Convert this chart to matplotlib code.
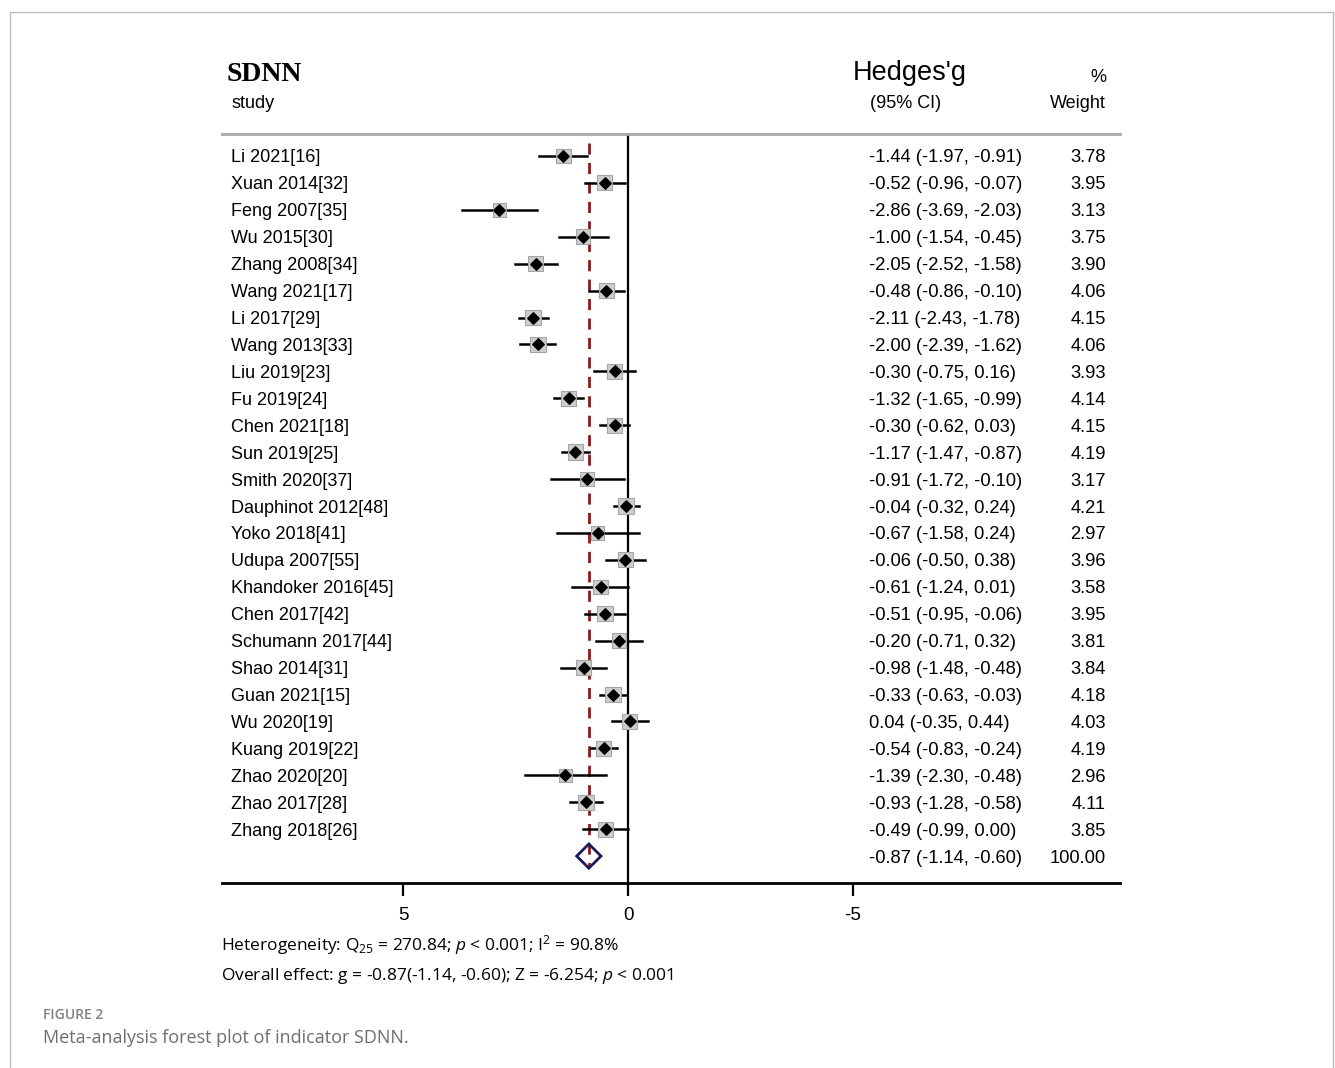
import matplotlib
matplotlib.use("Agg")
import matplotlib.pyplot as plt
import matplotlib.transforms as mtransforms
from matplotlib.patches import Polygon, Rectangle

# data
studies = ["Li 2021[16]", "Xuan 2014[32]", "Feng 2007[35]", "Wu 2015[30]", "Zhang 2008[34]",
           "Wang 2021[17]", "Li 2017[29]", "Wang 2013[33]", "Liu 2019[23]", "Fu 2019[24]",
           "Chen 2021[18]", "Sun 2019[25]", "Smith 2020[37]", "Dauphinot 2012[48]", "Yoko 2018[41]",
           "Udupa 2007[55]", "Khandoker 2016[45]", "Chen 2017[42]", "Schumann 2017[44]", "Shao 2014[31]",
           "Guan 2021[15]", "Wu 2020[19]", "Kuang 2019[22]", "Zhao 2020[20]", "Zhao 2017[28]",
           "Zhang 2018[26]"]
g = [-1.44, -0.52, -2.86, -1.00, -2.05, -0.48, -2.11, -2.00, -0.30, -1.32, -0.30, -1.17, -0.91,
     -0.04, -0.67, -0.06, -0.61, -0.51, -0.20, -0.98, -0.33, 0.04, -0.54, -1.39, -0.93, -0.49]
ci_lo = [-1.97, -0.96, -3.69, -1.54, -2.52, -0.86, -2.43, -2.39, -0.75, -1.65, -0.62, -1.47, -1.72,
         -0.32, -1.58, -0.50, -1.24, -0.95, -0.71, -1.48, -0.63, -0.35, -0.83, -2.30, -1.28, -0.99]
ci_hi = [-0.91, -0.07, -2.03, -0.45, -1.58, -0.10, -1.78, -1.62, 0.16, -0.99, 0.03, -0.87, -0.10,
         0.24, 0.24, 0.38, 0.01, -0.06, 0.32, -0.48, -0.03, 0.44, -0.24, -0.48, -0.58, 0.00]
weight = [3.78, 3.95, 3.13, 3.75, 3.90, 4.06, 4.15, 4.06, 3.93, 4.14, 4.15, 4.19, 3.17, 4.21, 2.97,
          3.96, 3.58, 3.95, 3.81, 3.84, 4.18, 4.03, 4.19, 2.96, 4.11, 3.85]
overall = (-0.87, -1.14, -0.60)
xtick_pos = [-5, 0, 5]
xtick_labels = ["5", "0", "-5"]

W, H = 1335, 1068
fig = plt.figure(figsize=(W / 100, H / 100), dpi=100)

def fx(px):
    return px / W

def fy(py):
    return 1 - py / H

SANS = "Liberation Sans"

# outer frame of the page
fig.patches.append(Rectangle((fx(10), fy(1080)), fx(1333) - fx(10), fy(12) - fy(1080),
                             transform=fig.transFigure, fill=False, edgecolor="#bdbdbd", lw=1))

ax = fig.add_axes([fx(222), fy(883), fx(1120) - fx(222), fy(134) - fy(883)])
ax.set_xlim((222 - 628) / 45, (1120 - 628) / 45)
ax.set_ylim(27.0, -0.817)

for s in ["left", "right"]:
    ax.spines[s].set_visible(False)
ax.spines["top"].set_color("#a8a8a8")
ax.spines["top"].set_linewidth(2)
ax.spines["bottom"].set_linewidth(2)
ax.set_yticks([])
ax.set_xticks(xtick_pos)
ax.set_xticklabels(xtick_labels, fontsize=13.5, family=SANS)
ax.tick_params(axis="x", length=9, width=1.6, pad=8)

rows = list(range(len(studies)))

ax.axvline(0, color="black", lw=1.6)
ax.plot([overall[0], overall[0]], [-0.48, 26.4], color="#8b1a1a", lw=2, dashes=(4, 3))

for i in rows:
    ax.plot([ci_lo[i], ci_hi[i]], [i, i], color="black", lw=1.8, zorder=2)
ax.scatter(g, rows, s=[w * 30 for w in weight], marker="s", color="#cdcdcd",
           edgecolors="#a5a5a5", linewidths=0.8, zorder=3)
ax.scatter(g, rows, s=34, marker="D", color="black", zorder=4)

ny = len(studies)
est, lo, hi = overall
ax.add_patch(Polygon([(lo, ny), (est, ny - 0.45), (hi, ny), (est, ny + 0.45)], closed=True,
                     fill=False, edgecolor="#1c1a5a", lw=2, zorder=4))

# text columns
tr = mtransforms.blended_transform_factory(fig.transFigure, ax.transData)
for i in rows:
    ax.text(fx(231), i, studies[i], transform=tr, fontsize=13, family=SANS, va="center_baseline")
    ax.text(fx(869), i, f"{g[i]:.2f} ({ci_lo[i]:.2f}, {ci_hi[i]:.2f})", transform=tr,
            fontsize=13.2, family=SANS, va="center_baseline")
    ax.text(fx(1106), i, f"{weight[i]:.2f}", transform=tr, fontsize=13.2, family=SANS,
            va="center_baseline", ha="right")
ax.text(fx(869), ny, f"{est:.2f} ({lo:.2f}, {hi:.2f})", transform=tr, fontsize=13.2,
        family=SANS, va="center_baseline")
ax.text(fx(1106), ny, "100.00", transform=tr, fontsize=13.2, family=SANS,
        va="center_baseline", ha="right")

# headers
fig.text(fx(227), fy(72), "SDNN", fontsize=20, family="Liberation Serif", weight="bold",
         va="center_baseline")
fig.text(fx(231), fy(102), "study", fontsize=13, family=SANS, va="center_baseline")
fig.text(fx(853), fy(70), "Hedges'g", fontsize=19.5, family=SANS, va="center_baseline")
fig.text(fx(870), fy(102), "(95% CI)", fontsize=13, family=SANS, va="center_baseline")
fig.text(fx(1106), fy(75), "%", fontsize=13, family=SANS, va="center_baseline", ha="right")
fig.text(fx(1106), fy(102), "Weight", fontsize=13, family=SANS, va="center_baseline", ha="right")

# footer statistics
plt.rcParams["mathtext.fontset"] = "custom"
plt.rcParams["mathtext.rm"] = "Open Sans"
plt.rcParams["mathtext.it"] = "Open Sans:italic"
fig.text(fx(221), fy(942), r"Heterogeneity: Q$_{25}$ = 270.84; $p$ < 0.001; I$^{2}$ = 90.8%",
         fontsize=12.5, family="Open Sans", va="center_baseline")
fig.text(fx(221), fy(973), r"Overall effect: g = -0.87(-1.14, -0.60); Z = -6.254; $p$ < 0.001",
         fontsize=12.5, family="Open Sans", va="center_baseline")

# caption
fig.text(fx(43), fy(1015), "FIGURE 2", fontsize=10, family="Open Sans", weight="semibold",
         color="#808080", va="center")
fig.text(fx(43), fy(1038), "Meta-analysis forest plot of indicator SDNN.", fontsize=13,
         family="Open Sans", color="#6e6e6e", va="center")

fig.savefig("out.png", dpi=100)
